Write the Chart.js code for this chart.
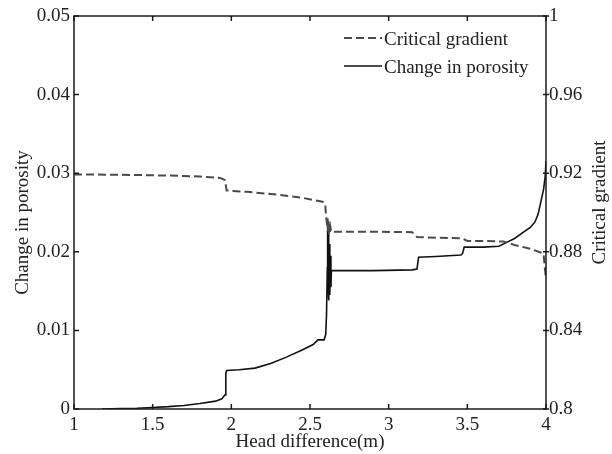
<!DOCTYPE html>
<html>
<head>
<meta charset="utf-8">
<script src="https://cdn.jsdelivr.net/npm/chart.js@4/dist/chart.umd.min.js"></script>
<style>
  html, body { margin: 0; padding: 0; background: #fff; }
  #chart { display: block; }
</style>
</head>
<body>
<canvas id="chart" width="612" height="454"></canvas>
<script>
// --- values ---

// Critical gradient (dashed, right axis)
const headCrit = [1.0, 1.3, 1.6, 1.8, 1.93, 1.96, 1.97, 2.1, 2.3, 2.45, 2.58, 2.597,
  2.6, 2.605, 2.61, 2.612, 2.615, 2.618, 2.62, 2.623, 2.626, 2.63, 2.635,
  2.9, 3.15, 3.18, 3.3, 3.47, 3.5, 3.6, 3.73, 3.8, 3.9, 3.97, 3.985, 3.99, 4.0];
const critGrad = [0.9194, 0.9192, 0.9188, 0.9183, 0.9176, 0.9165, 0.9112, 0.9105, 0.909, 0.9075, 0.9055, 0.9045,
  0.900, 0.896, 0.893, 0.897, 0.8905, 0.8955, 0.889, 0.894, 0.8895, 0.8925, 0.8902,
  0.8902, 0.890, 0.8875, 0.8872, 0.8868, 0.8855, 0.8855, 0.8852, 0.8835, 0.8815, 0.8795, 0.879, 0.874, 0.866];

// Change in porosity (solid, left axis)
const headPor = [1.18, 1.3, 1.4, 1.5, 1.6, 1.7, 1.8, 1.9, 1.94, 1.96, 1.965, 1.97,
  2.05, 2.15, 2.25, 2.35, 2.45, 2.52, 2.55, 2.59, 2.6, 2.605, 2.61, 2.612, 2.615,
  2.618, 2.62, 2.623, 2.626, 2.63, 2.633, 2.636, 2.9, 3.15, 3.18, 3.19, 3.3, 3.46,
  3.47, 3.48, 3.6, 3.7, 3.75, 3.8, 3.85, 3.9, 3.93, 3.95, 3.97, 3.985, 3.995, 4.0];
const porosity = [0, 0.00005, 0.0001, 0.0002, 0.0003, 0.00045, 0.0007, 0.001, 0.0013, 0.0018, 0.0045, 0.0049,
  0.005, 0.0052, 0.0058, 0.0066, 0.0075, 0.0082, 0.0088, 0.0088, 0.0095, 0.012, 0.018, 0.024, 0.016,
  0.0225, 0.0138, 0.021, 0.0145, 0.0195, 0.0155, 0.0176, 0.0176, 0.0177, 0.0178, 0.0193, 0.0194, 0.0196,
  0.0198, 0.0206, 0.0206, 0.0207, 0.0212, 0.0217, 0.0224, 0.0231, 0.0238, 0.0248, 0.0266, 0.028, 0.0296, 0.0315];

const xTicks = [1, 1.5, 2, 2.5, 3, 3.5, 4];
const xTickLabels = ['1', '1.5', '2', '2.5', '3', '3.5', '4'];
const porTicks = [0, 0.01, 0.02, 0.03, 0.04, 0.05];
const porTickLabels = ['0', '0.01', '0.02', '0.03', '0.04', '0.05'];
const gradTicks = [0.8, 0.84, 0.88, 0.92, 0.96, 1];
const gradTickLabels = ['0.8', '0.84', '0.88', '0.92', '0.96', '1'];

const xTitle = 'Head difference(m)';
const leftTitle = 'Change in porosity';
const rightTitle = 'Critical gradient';

const FAMILY = '"Liberation Serif", "Times New Roman", serif';
const FONT_SIZE = 19;
const INK = '#222';

function toPoints(xs, ys) {
    return xs.map((x, i) => ({ x: x, y: ys[i] }));
}

// frame, inward ticks, axis titles and the legend box in the top right
const framePlugin = {
    id: 'frame',
    afterDatasetsDraw(chart) {
        const { ctx, chartArea: a, scales } = chart;
        ctx.save();
        ctx.strokeStyle = '#1a1a1a';
        ctx.lineWidth = 1.5;
        ctx.strokeRect(a.left, a.top, a.width, a.height);

        ctx.beginPath();
        xTicks.forEach(v => {
            const px = scales.x.getPixelForValue(v);
            ctx.moveTo(px, a.bottom); ctx.lineTo(px, a.bottom - 5);
            ctx.moveTo(px, a.top); ctx.lineTo(px, a.top + 5);
        });
        porTicks.forEach(v => {
            const py = scales.y.getPixelForValue(v);
            ctx.moveTo(a.left, py); ctx.lineTo(a.left + 5, py);
        });
        gradTicks.forEach(v => {
            const py = scales.y2.getPixelForValue(v);
            ctx.moveTo(a.right - 3, py); ctx.lineTo(a.right + 3, py);
        });
        ctx.stroke();

        // axis titles
        ctx.fillStyle = INK;
        ctx.font = FONT_SIZE + 'px ' + FAMILY;
        ctx.textAlign = 'center';
        ctx.textBaseline = 'middle';
        ctx.fillText(xTitle, (a.left + a.right) / 2, 442);

        ctx.save();
        ctx.translate(23, (a.top + a.bottom) / 2 + 10);
        ctx.rotate(-Math.PI / 2);
        ctx.fillText(leftTitle, 0, 0);
        ctx.restore();

        ctx.save();
        ctx.translate(600, (a.top + a.bottom) / 2 - 10);
        ctx.rotate(-Math.PI / 2);
        ctx.fillText(rightTitle, 0, 0);
        ctx.restore();

        // legend
        const rows = [
            { ds: chart.data.datasets[0], y: 38 },
            { ds: chart.data.datasets[1], y: 66 }
        ];
        ctx.textAlign = 'left';
        rows.forEach(r => {
            ctx.beginPath();
            ctx.strokeStyle = r.ds.borderColor;
            ctx.lineWidth = r.ds.borderWidth;
            ctx.setLineDash(r.ds.borderDash || []);
            ctx.moveTo(344, r.y);
            ctx.lineTo(382, r.y);
            ctx.stroke();
            ctx.setLineDash([]);
            ctx.fillText(r.ds.label, 384, r.y + 2);
        });
        ctx.restore();
    }
};

new Chart(document.getElementById('chart'), {
    type: 'scatter',
    data: {
        datasets: [
            {
                label: 'Critical gradient',
                data: toPoints(headCrit, critGrad),
                yAxisID: 'y2',
                showLine: true,
                borderColor: '#4a4a4a',
                borderWidth: 2,
                borderDash: [8, 4],
                pointRadius: 0,
                tension: 0
            },
            {
                label: 'Change in porosity',
                data: toPoints(headPor, porosity),
                yAxisID: 'y',
                showLine: true,
                borderColor: '#111',
                borderWidth: 1.6,
                pointRadius: 0,
                tension: 0
            }
        ]
    },
    options: {
        responsive: false,
        animation: false,
        devicePixelRatio: 1,
        layout: { padding: { top: 16, left: 0, right: 0, bottom: 0 } },
        plugins: {
            legend: { display: false },
            tooltip: { enabled: false }
        },
        scales: {
            x: {
                type: 'linear',
                min: 1, max: 4,
                grid: { display: false, drawTicks: false },
                border: { display: false },
                afterBuildTicks: s => { s.ticks = xTicks.map(v => ({ value: v })); },
                afterFit: s => { s.height = 45; },
                ticks: {
                    callback: (v, i) => xTickLabels[i],
                    color: INK,
                    padding: 5,
                    maxRotation: 0,
                    autoSkip: false,
                    font: { family: FAMILY, size: FONT_SIZE }
                }
            },
            y: {
                type: 'linear',
                position: 'left',
                min: 0, max: 0.05,
                grid: { display: false, drawTicks: false },
                border: { display: false },
                afterBuildTicks: s => { s.ticks = porTicks.map(v => ({ value: v })); },
                afterFit: s => { s.width = 74; },
                ticks: {
                    callback: (v, i) => porTickLabels[i],
                    color: INK,
                    padding: 4,
                    autoSkip: false,
                    font: { family: FAMILY, size: FONT_SIZE }
                }
            },
            y2: {
                type: 'linear',
                position: 'right',
                min: 0.8, max: 1,
                grid: { display: false, drawTicks: false },
                border: { display: false },
                afterBuildTicks: s => { s.ticks = gradTicks.map(v => ({ value: v })); },
                afterFit: s => { s.width = 66; },
                ticks: {
                    callback: (v, i) => gradTickLabels[i],
                    color: INK,
                    padding: 3,
                    autoSkip: false,
                    font: { family: FAMILY, size: FONT_SIZE }
                }
            }
        }
    },
    plugins: [framePlugin]
});
</script>
</body>
</html>
